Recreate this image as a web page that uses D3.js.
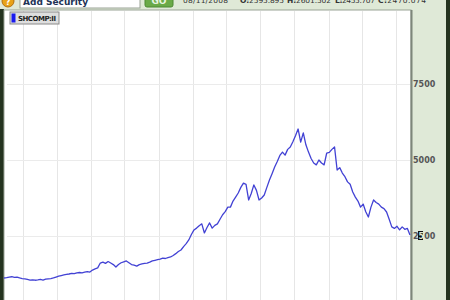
<!DOCTYPE html>
<html>
<head>
<meta charset="utf-8">
<script src="https://cdn.jsdelivr.net/npm/d3@7"></script>
<style>
  body { margin: 0; background: #dfe9d7; }
  svg { display: block; }
</style>
</head>
<body>
<svg id="chart"></svg>
<script>
var width = 450,
  height = 300;

var symbol = "SHCOMP:II";
var quoteDate = "08/11/2008";
var quoteLabels = ["O:", "H:", "L:", "C:"];
var quoteValues = ["2595.895", "2601.502", "2455.707", "2470.074"];
var yTicks = [2500, 5000, 7500];

// weekly closes, starting 2005-08-11
var startDate = new Date(2005, 7, 11);
var closes = [
  1118, 1130, 1145, 1160, 1140, 1150, 1120, 1100, 1090, 1070,
  1050, 1060, 1045, 1055, 1070, 1050, 1080, 1090, 1100, 1120,
  1150, 1180, 1200, 1220, 1240, 1250, 1270, 1260, 1290, 1300,
  1290, 1310, 1330, 1315, 1380, 1420, 1450, 1610, 1640, 1600,
  1660, 1610, 1560, 1480, 1560, 1620, 1650, 1680, 1620, 1560,
  1540, 1510, 1560, 1580, 1600, 1610, 1640, 1680, 1700, 1720,
  1740, 1770, 1760, 1790, 1810, 1860, 1920, 1990, 2040, 2150,
  2250, 2370, 2550, 2700, 2760, 2840, 2900, 2600, 2780, 2930,
  2760, 2850, 2900, 3050, 3200, 3300, 3450, 3450, 3650, 3780,
  3915, 4100, 4240, 4200, 3685, 3900, 4180, 4000, 3685, 3750,
  3850, 4100, 4340, 4550, 4770, 4950, 5150, 5260, 5160, 5350,
  5430, 5600, 5800, 6020, 5590, 5890, 5500, 5260, 5050, 4900,
  4840, 5000, 4900, 4840, 5230, 5250, 5350, 5430, 4670, 4750,
  4570, 4450, 4280, 4200, 3950, 3780, 3650, 3450, 3550, 3300,
  3125, 3450, 3685, 3600, 3550, 3450, 3400, 3290, 3050, 2800,
  2750, 2820, 2700, 2800, 2720, 2750, 2530
];

var data = closes.map(function (c, i) {
  return { date: d3.timeDay.offset(startDate, 7 * i), close: c };
});

var svg = d3.select("#chart")
  .attr("width", width)
  .attr("height", height)
  .style("font-family", "'DejaVu Sans', Verdana, sans-serif");

var x = d3.scaleTime()
  .domain(d3.extent(data, function (d) { return d.date; }))
  .range([4, 410]);

var y = d3.scaleLinear()
  .domain([0, 10000])
  .range([312, 8]);

// outer frame
svg.append("rect").attr("x", 0).attr("y", 0).attr("width", width).attr("height", height).attr("fill", "#dfe9d7");
svg.append("rect").attr("x", 0).attr("y", 9).attr("width", 4).attr("height", height).attr("fill", "#24331f");
svg.append("rect").attr("x", 446).attr("y", 0).attr("width", 4).attr("height", height).attr("fill", "#24331f");

// plot area
svg.append("rect")
  .attr("x", 4).attr("y", 10)
  .attr("width", 407).attr("height", 295)
  .attr("fill", "#fff")
  .attr("stroke", "#9aa396")
  .attr("stroke-width", 1);
svg.append("line")
  .attr("x1", 411.5).attr("x2", 411.5).attr("y1", 10).attr("y2", height)
  .attr("stroke", "#7d867a").attr("stroke-width", 2);

// grid
svg.append("g")
  .selectAll("line")
  .data(x.ticks(d3.timeMonth.every(3)))
  .enter().append("line")
  .attr("x1", function (d) { return Math.round(x(d)) + 0.5; })
  .attr("x2", function (d) { return Math.round(x(d)) + 0.5; })
  .attr("y1", 11).attr("y2", height)
  .attr("stroke", "#e6e6e6");

svg.append("g")
  .selectAll("line")
  .data(yTicks)
  .enter().append("line")
  .attr("x1", 7).attr("x2", 410)
  .attr("y1", function (d) { return Math.round(y(d)) + 0.5; })
  .attr("y2", function (d) { return Math.round(y(d)) + 0.5; })
  .attr("stroke", "#ebebeb");

// price line
var line = d3.line()
  .x(function (d) { return x(d.date); })
  .y(function (d) { return y(d.close); });

svg.append("path")
  .datum(data)
  .attr("d", line)
  .attr("fill", "none")
  .attr("stroke", "#4242d4")
  .attr("stroke-width", 1.3)
  .attr("stroke-linejoin", "round");

// right axis labels
var axis = svg.append("g").attr("transform", "translate(413,0)");
// the text cursor sitting on the "5" of 2500
axis.append("rect")
  .attr("x", 5).attr("y", y(2500) - 5)
  .attr("width", 5).attr("height", 9)
  .attr("fill", "#111");
var labels = axis.selectAll("text")
  .data(yTicks)
  .enter().append("text")
  .attr("x", 0)
  .attr("y", function (d) { return y(d) + 3; })
  .attr("font-size", 8)
  .attr("font-weight", "bold")
  .attr("fill", "#555");
labels.each(function (d) {
  var t = d3.select(this), s = String(d);
  if (d === 2500) {
    t.append("tspan").text(s.slice(0, 1));
    t.append("tspan").attr("fill", "#dfe9d7").text(s.slice(1, 2));
    t.append("tspan").text(s.slice(2));
  } else {
    t.text(s);
  }
});

// legend
var legend = svg.append("g").attr("transform", "translate(10,12)");
legend.append("rect")
  .attr("width", 49).attr("height", 12)
  .attr("fill", "#dedede").attr("stroke", "#8a8a8a");
legend.append("rect")
  .attr("x", 1.5).attr("y", 1.5).attr("width", 4).attr("height", 9)
  .attr("fill", "#1a1aee");
legend.append("text")
  .attr("x", 8).attr("y", 9)
  .attr("font-size", 7).attr("font-weight", "bold")
  .attr("fill", "#222")
  .attr("textLength", 38)
  .text(symbol);

// toolbar (cut off at the top)
var bar = svg.append("g");
bar.append("circle").attr("cx", 8).attr("cy", 1).attr("r", 6).attr("fill", "#e8a317").attr("stroke", "#b07010");
bar.append("text").attr("x", 8).attr("y", 5).attr("text-anchor", "middle")
  .attr("font-size", 8).attr("font-weight", "bold").attr("fill", "#fff").text("?");
bar.append("rect").attr("x", 20).attr("y", -4).attr("width", 120).attr("height", 12)
  .attr("fill", "#fff").attr("stroke", "#9aa396");
bar.append("text").attr("x", 23).attr("y", 5)
  .attr("font-size", 9).attr("font-weight", "bold").attr("fill", "#223355").text("Add Security");
bar.append("rect").attr("x", 145).attr("y", -4).attr("width", 28).attr("height", 11).attr("rx", 2)
  .attr("fill", "#6aaa48").attr("stroke", "#4d8a33");
bar.append("text").attr("x", 159).attr("y", 4).attr("text-anchor", "middle")
  .attr("font-size", 9).attr("font-weight", "bold").attr("fill", "#e8f5e0").text("GO");
bar.append("text").attr("x", 183).attr("y", 3)
  .attr("font-size", 7.5).attr("fill", "#333")
  .attr("textLength", 45)
  .text(quoteDate);

var qx = [240, 287, 335, 378],
  qlen = [44, 44, 40, 48];
quoteLabels.forEach(function (l, i) {
  var t = bar.append("text").attr("x", qx[i]).attr("y", 3)
    .attr("font-size", 7.5).attr("fill", "#333")
    .attr("textLength", qlen[i]);
  t.append("tspan").attr("font-weight", "bold").text(l);
  t.append("tspan").text(quoteValues[i]);
});
</script>
</body>
</html>
